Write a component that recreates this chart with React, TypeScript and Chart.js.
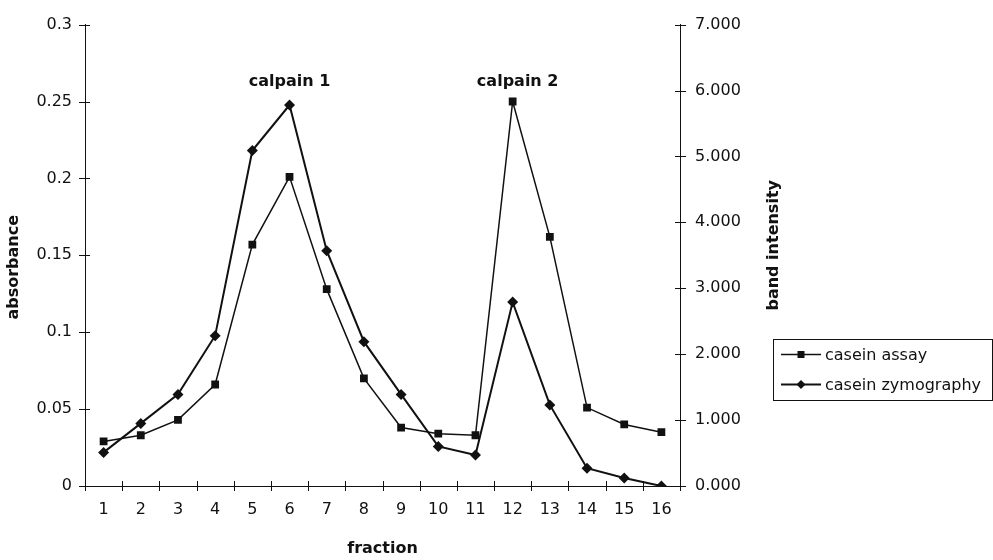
import React, { useEffect, useRef } from "react";
import { Chart, registerables } from "chart.js";

Chart.register(...registerables);

const fractions = ["1", "2", "3", "4", "5", "6", "7", "8", "9", "10", "11", "12", "13", "14", "15", "16"];
const caseinAssay = [0.029, 0.033, 0.043, 0.066, 0.157, 0.201, 0.128, 0.07, 0.038, 0.034, 0.033, 0.25, 0.162, 0.051, 0.04, 0.035];
const caseinZymography = [0.51, 0.95, 1.39, 2.28, 5.09, 5.78, 3.57, 2.19, 1.39, 0.6, 0.47, 2.79, 1.23, 0.27, 0.12, 0.0];
const absorbanceRange = [0, 0.3];
const absorbanceStep = 0.05;
const intensityRange = [0, 7];
const intensityStep = 1;
const seriesNames = ["casein assay", "casein zymography"];
const axisTitles = { x: "fraction", left: "absorbance", right: "band intensity" };
const peakNames = ["calpain 1", "calpain 2"];
const peakFractions = ["6", "12"];
const peakLabelLevel = 0.2625;

const FONT = "'DejaVu Sans', sans-serif";
const INK = "#111";

const decor = {
  id: "decor",
  afterDraw(chart: any) {
    const ctx = chart.ctx;
    const xs = chart.scales.x;
    const yl = chart.scales.y;
    const yr = chart.scales.y1;
    ctx.save();
    ctx.strokeStyle = INK;
    ctx.lineWidth = 1;
    // crossing tick marks
    ctx.beginPath();
    for (let i = 0; i <= fractions.length; i++) {
      const px = Math.round(xs.getPixelForValue(i - 0.5)) + 0.5;
      ctx.moveTo(px, xs.top - 5);
      ctx.lineTo(px, xs.top + 5);
    }
    yl.ticks.forEach((t: any) => {
      const py = Math.round(yl.getPixelForValue(t.value)) + 0.5;
      ctx.moveTo(yl.right - 6, py);
      ctx.lineTo(yl.right + 5, py);
    });
    yr.ticks.forEach((t: any) => {
      const py = Math.round(yr.getPixelForValue(t.value)) + 0.5;
      ctx.moveTo(yr.left - 5, py);
      ctx.lineTo(yr.left + 6, py);
    });
    ctx.stroke();

    // axis titles
    ctx.fillStyle = INK;
    ctx.font = `bold 16px ${FONT}`;
    ctx.textAlign = "center";
    ctx.textBaseline = "middle";
    ctx.fillText(axisTitles.x, (xs.left + xs.right) / 2, 549);
    const midY = (yl.top + yl.bottom) / 2;
    ctx.save();
    ctx.translate(14, midY + 12);
    ctx.rotate(-Math.PI / 2);
    ctx.fillText(axisTitles.left, 0, 0);
    ctx.restore();
    ctx.save();
    ctx.translate(yr.left + 94, midY - 10);
    ctx.rotate(-Math.PI / 2);
    ctx.fillText(axisTitles.right, 0, 0);
    ctx.restore();

    // peak labels
    peakNames.forEach((name, i) => {
      const px = xs.getPixelForValue(fractions.indexOf(peakFractions[i]));
      const py = yl.getPixelForValue(peakLabelLevel);
      ctx.fillText(name, px + (i === 1 ? 5 : 0), py);
    });

    // legend
    const bx = 773.5, by = 339.5, bw = 219, bh = 61;
    ctx.lineWidth = 1;
    ctx.strokeRect(bx, by, bw, bh);
    ctx.font = `16px ${FONT}`;
    ctx.textAlign = "left";
    const rows = [by + 15, by + 45];
    chart.data.datasets.forEach((ds: any, i: number) => {
      const ry = rows[i];
      ctx.strokeStyle = INK;
      ctx.lineWidth = ds.borderWidth;
      ctx.beginPath();
      ctx.moveTo(781, ry);
      ctx.lineTo(821, ry);
      ctx.stroke();
      ctx.fillStyle = INK;
      ctx.beginPath();
      if (ds.pointStyle === "rect") {
        ctx.rect(801 - 3.5, ry - 3.5, 7, 7);
      } else {
        ctx.moveTo(801, ry - 4.5);
        ctx.lineTo(805.5, ry);
        ctx.lineTo(801, ry + 4.5);
        ctx.lineTo(796.5, ry);
        ctx.closePath();
      }
      ctx.fill();
      ctx.fillText(ds.label, 825, ry + 1);
    });
    ctx.restore();
  },
};

export default function App() {
  const ref = useRef<HTMLCanvasElement | null>(null);
  useEffect(() => {
    document.body.style.margin = "0";
    if (!ref.current) return;
    const chart = new Chart(ref.current, {
      type: "line",
      data: {
        labels: fractions,
        datasets: [
          {
            label: seriesNames[0],
            data: caseinAssay,
            yAxisID: "y",
            borderColor: INK,
            backgroundColor: INK,
            borderWidth: 1.5,
            pointStyle: "rect",
            pointRadius: 5.5,
            pointBorderWidth: 0,
            tension: 0,
          },
          {
            label: seriesNames[1],
            data: caseinZymography,
            yAxisID: "y1",
            borderColor: INK,
            backgroundColor: INK,
            borderWidth: 2,
            pointStyle: "rectRot",
            pointRadius: 5.5,
            pointBorderWidth: 0,
            tension: 0,
          },
        ],
      },
      options: {
        responsive: false,
        animation: false,
        layout: { padding: { top: 15, left: 0, right: 0, bottom: 0 } },
        plugins: { legend: { display: false }, tooltip: { enabled: false } },
        scales: {
          x: {
            type: "category",
            offset: true,
            grid: { display: false, drawTicks: false },
            border: { display: true, color: INK, width: 1 },
            ticks: { color: INK, font: { family: FONT, size: 16 }, padding: 14, maxRotation: 0, autoSkip: false },
            afterFit: (s: any) => { s.height = 74; },
          },
          y: {
            position: "left",
            min: absorbanceRange[0],
            max: absorbanceRange[1],
            grid: { display: false, drawTicks: false },
            border: { display: true, color: INK, width: 1 },
            ticks: {
              stepSize: absorbanceStep,
              color: INK,
              font: { family: FONT, size: 16 },
              padding: 13,
              callback: (v: any) => String(Number(Number(v).toFixed(2))),
            },
            afterFit: (s: any) => { s.width = 85; },
          },
          y1: {
            position: "right",
            min: intensityRange[0],
            max: intensityRange[1],
            grid: { display: false, drawTicks: false },
            border: { display: true, color: INK, width: 1 },
            ticks: {
              stepSize: intensityStep,
              color: INK,
              font: { family: FONT, size: 16 },
              padding: 15,
              callback: (v: any) => Number(v).toFixed(3),
            },
            afterFit: (s: any) => { s.width = 313; },
          },
        },
      },
      plugins: [decor],
    });
    return () => chart.destroy();
  }, []);
  return (
    <div style={{ width: 993, height: 560, background: "#fff" }}>
      <canvas ref={ref} width={993} height={560} style={{ display: "block" }} />
    </div>
  );
}
